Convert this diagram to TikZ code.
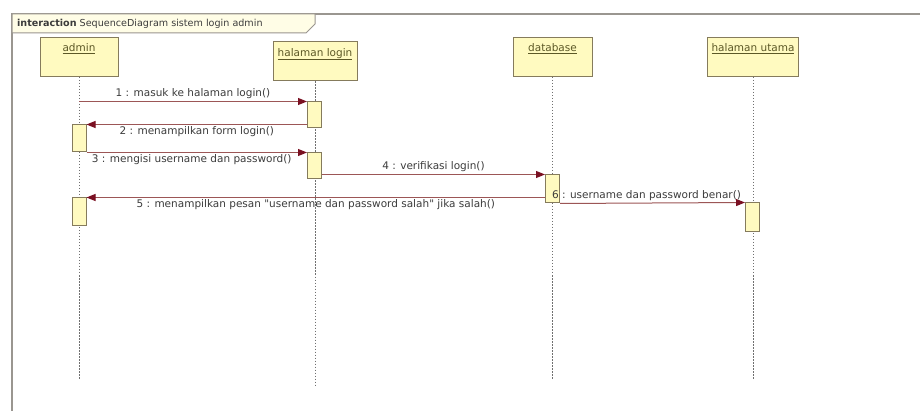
\documentclass[tikz,border=0pt]{standalone}
\usepackage{fontspec}
\setmainfont{DejaVu Sans}
\usetikzlibrary{arrows.meta}

\definecolor{headfill}{HTML}{FFFAC0}
\definecolor{headline}{HTML}{857B5C}
\definecolor{msgline}{HTML}{9C5656}
\definecolor{msgtip}{HTML}{7A1022}
\definecolor{lifegray}{HTML}{707070}
\definecolor{labeltext}{HTML}{3C3C3C}
\definecolor{nametext}{HTML}{5C5826}
\definecolor{framegray}{HTML}{9A9690}
\definecolor{framefill}{HTML}{FFFDE6}

% straight double quote glyph, set directly so no text mapping curls it
\newcommand{\plaindq}{\XeTeXglyph\XeTeXcharglyph"22\relax}

\tikzset{
  lifehead/.style={draw=headline, fill=headfill, line width=1pt, minimum height=39pt, inner sep=0pt},
  headname/.style={anchor=north, yshift=-3pt, text=nametext},
  lifeline/.style={draw=lifegray, line width=0.9pt, dash pattern=on 1.5pt off 1.5pt},
  actbox/.style={draw=headline, fill=headfill, line width=1pt, minimum width=14pt, inner sep=0pt},
  msg/.style={draw=msgline, line width=1pt,
    -{Triangle[length=9pt, width=7pt, fill=msgtip, color=msgtip]}},
  msglabel/.style={text=labeltext, inner sep=2pt},
}

\begin{document}
\begin{tikzpicture}[x=1pt, y=-1pt, font=\fontsize{10.5}{12}\selectfont]
  \useasboundingbox (0,0) rectangle (920,411);
  \clip (0,0) rectangle (920,411);
  \fill[white] (0,0) rectangle (920,411);

  % interaction frame and its name tag
  \draw[framegray, line width=1.3pt] (12,430) -- (12,14) -- (940,14);
  \filldraw[fill=framefill, draw=framegray, line width=1pt]
    (12,14) -- (315,14) -- (315,24) -- (306,33) -- (12,33) -- cycle;
  \node[anchor=west, text=labeltext, inner sep=0pt, font=\fontsize{9.6}{11}\selectfont]
    (frametitle) at (17,24) {\textbf{interaction} SequenceDiagram sistem login admin};

  % lifeline heads
  \node[lifehead, minimum width=78pt, label={[headname]north:\underline{admin}}] (admin) at (79,57) {};
  \node[lifehead, minimum width=84pt, label={[headname]north:\underline{halaman login}}] (login) at (315,61.5) {};
  \node[lifehead, minimum width=79pt, label={[headname]north:\underline{database}}] (db) at (552.5,57) {};
  \node[lifehead, minimum width=91pt, label={[headname]north:\underline{halaman utama}}] (utama) at (753,57) {};

  % lifeline ends
  \coordinate (adminEnd) at (79,380);
  \coordinate (loginEnd) at (315,385);
  \coordinate (dbEnd) at (552.5,380);
  \coordinate (utamaEnd) at (753,380);

  \draw[lifeline] (admin.south) -- (adminEnd);
  \draw[lifeline] (login.south) -- (loginEnd);
  \draw[lifeline] (db.south) -- (dbEnd);
  \draw[lifeline] (utama.south) -- (utamaEnd);

  % activation bars
  \node[actbox, minimum height=27pt] (a1) at (79,138.5) {};
  \node[actbox, minimum height=28pt] (a2) at (79,212) {};
  \node[actbox, minimum height=26pt] (l1) at (314.5,115) {};
  \node[actbox, minimum height=26pt] (l2) at (314.5,166) {};
  \node[actbox, minimum height=28pt] (d1) at (552.5,189) {};
  \node[actbox, minimum height=29pt] (u1) at (752.5,217.5) {};

  % messages
  \draw[msg] (admin.south |- l1.north west) -- (l1.north west)
    node[msglabel, midway, above] {1 : masuk ke halaman login()};
  \draw[msg] (l1.west |- a1.north east) -- (a1.north east)
    node[msglabel, midway, below] {2 : menampilkan form login()};
  \draw[msg] (a1.south east) -- (l2.north west |- a1.south east)
    node[msglabel, midway, below, xshift=-5pt] {3 : mengisi username dan password()};
  \draw[msg] (l2.east |- d1.north west) -- (d1.north west)
    node[msglabel, midway, above] {4 : verifikasi login()};
  \draw[msg] (d1.west |- a2.north east) -- (a2.north east)
    node[msglabel, midway, below] {5 : menampilkan pesan \plaindq username dan password salah\plaindq{} jika salah()};
  \draw[msg] (d1.south east) -- (u1.north west)
    node[msglabel, midway, above, xshift=-6pt] {6 : username dan password benar()};
\end{tikzpicture}
\end{document}
